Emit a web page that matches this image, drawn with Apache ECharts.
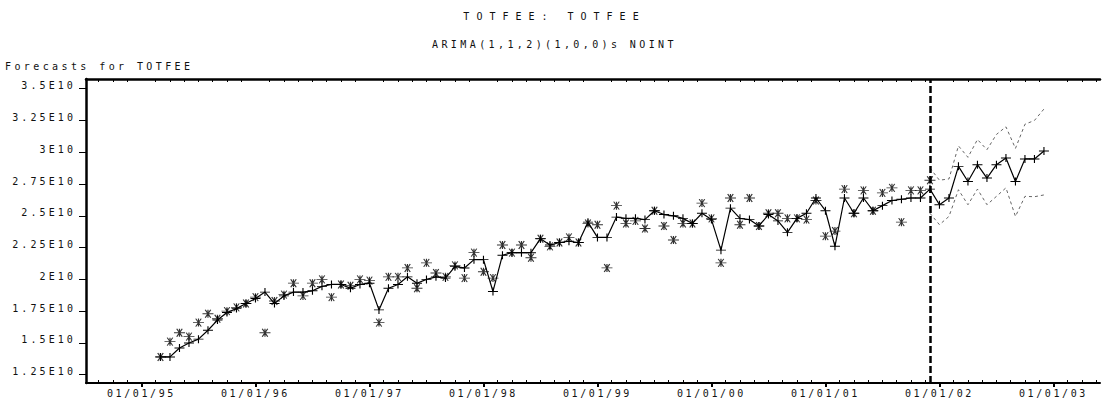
<!DOCTYPE html>
<html>
<head>
<meta charset="utf-8">
<title>TOTFEE forecasts</title>
<script src="https://cdn.jsdelivr.net/npm/echarts@6.0.0/dist/echarts.min.js"></script>
<style>
  html, body { margin: 0; padding: 0; background: #fff; }
  #chart { width: 1109px; height: 405px; }
  #chart text { letter-spacing: 2.6px; }
</style>
</head>
<body>
<div id="chart"></div>
<script>
  // x values are months counted from Jan 1995 (0 = 01/01/95)
  const firstMonth = 2;   // first observation, Mar 1995
  const bandStart = 83;   // Dec 2001, last observation

  const yearTicks = [0, 12, 24, 36, 48, 60, 72, 84, 96];
  const yearLabels = ['01/01/95', '01/01/96', '01/01/97', '01/01/98', '01/01/99',
                      '01/01/00', '01/01/01', '01/01/02', '01/01/03'];

  // values in units of 1E10
  const yTicks = [1.25, 1.5, 1.75, 2, 2.25, 2.5, 2.75, 3, 3.25, 3.5];
  const yLabels = ['1.25E10', '1.5E10', '1.75E10', '2E10', '2.25E10',
                   '2.5E10', '2.75E10', '3E10', '3.25E10', '3.5E10'];

  // actual TOTFEE, Mar 1995 .. Dec 2001
  const actual = [
    1.39, 1.51, 1.58, 1.55, 1.66, 1.73, 1.69, 1.75, 1.78, 1.81,
    1.86, 1.58, 1.83, 1.88, 1.97, 1.87, 1.97, 2.00, 1.86, 1.96,
    1.95, 2.00, 1.99, 1.66, 2.02, 2.02, 2.09, 1.93, 2.13, 2.05,
    2.02, 2.11, 2.01, 2.21, 2.06, 2.01, 2.27, 2.21, 2.27, 2.17,
    2.32, 2.26, 2.29, 2.33, 2.29, 2.44, 2.43, 2.09, 2.58, 2.44,
    2.46, 2.40, 2.54, 2.42, 2.31, 2.44, 2.44, 2.60, 2.48, 2.13,
    2.64, 2.43, 2.64, 2.42, 2.52, 2.52, 2.48, 2.48, 2.47, 2.62,
    2.34, 2.38, 2.71, 2.52, 2.70, 2.54, 2.68, 2.72, 2.45, 2.70,
    2.70, 2.78
  ];

  // one-step fit, Mar 1995 .. Dec 2001, then forecasts Jan .. Dec 2002
  const fitted = [
    1.39, 1.39, 1.46, 1.50, 1.53, 1.60, 1.68, 1.74, 1.77, 1.81,
    1.85, 1.90, 1.81, 1.87, 1.90, 1.90, 1.91, 1.945, 1.96, 1.96,
    1.93, 1.96, 1.97, 1.76, 1.93, 1.96, 2.02, 1.97, 2.00, 2.02,
    2.01, 2.10, 2.09, 2.155, 2.155, 1.905, 2.19, 2.21, 2.21, 2.21,
    2.32, 2.27, 2.29, 2.30, 2.29, 2.45, 2.33, 2.33, 2.49, 2.48,
    2.48, 2.47, 2.54, 2.51, 2.50, 2.48, 2.44, 2.52, 2.47, 2.23,
    2.56, 2.48, 2.47, 2.42, 2.51, 2.46, 2.37, 2.48, 2.52, 2.64,
    2.54, 2.26, 2.64, 2.52, 2.64, 2.54, 2.58, 2.62, 2.63, 2.64,
    2.64, 2.71, 2.587, 2.64, 2.889, 2.77, 2.902, 2.797, 2.902, 2.955,
    2.77, 2.947, 2.947, 3.01
  ];

  // confidence limits, Dec 2001 .. Dec 2002
  const upper = [2.876, 2.78, 2.79, 3.05, 2.96, 3.10, 3.02, 3.14, 3.20, 3.03, 3.22, 3.25, 3.34];
  const lower = [2.52, 2.43, 2.495, 2.705, 2.587, 2.71, 2.587, 2.653, 2.72, 2.495, 2.653, 2.65, 2.664];

  // small frame ticks, every month and a half
  const minorTicks = [];
  for (let k = -3; k <= 67; k++) if (k % 8 !== 0) minorTicks.push(k * 1.5);

  const FONT = '"DejaVu Sans Mono", monospace';
  const plusPath = 'path://M0,4L10,4M5,0L5,8';
  const starPath = 'path://M0,4L12,4M6,0L6,8M3,0L9,8M9,0L3,8';

  const pairs = (arr, start) => arr.map((v, i) => [start + i, v]);
  const pick = (ticks, labels, v) => {
    const i = ticks.findIndex(t => Math.abs(t - v) < 1e-6);
    return i < 0 ? '' : labels[i];
  };
  const xRange = { type: 'value', min: -5.84, max: 100.9, splitLine: { show: false } };
  const titleStyle = { fontFamily: FONT, fontSize: 10, fontWeight: 'normal', color: '#111' };

  const chart = echarts.init(document.getElementById('chart'), null, { renderer: 'svg' });

  chart.setOption({
    animation: false,
    backgroundColor: '#fff',
    title: [
      { text: 'TOTFEE: TOTFEE', left: 'center', top: 6, textStyle: titleStyle },
      { text: 'ARIMA(1,1,2)(1,0,0)s NOINT', left: 'center', top: 34, textStyle: titleStyle },
      { text: 'Forecasts for TOTFEE', left: 0, top: 56, textStyle: titleStyle }
    ],
    grid: { left: 86, right: 9, top: 79, bottom: 22 },
    xAxis: [
      Object.assign({}, xRange, {
        position: 'bottom',
        axisLine: { onZero: false, lineStyle: { color: '#000', width: 2 } },
        axisTick: { customValues: yearTicks, length: 4, lineStyle: { color: '#000', width: 2 } },
        axisLabel: {
          customValues: yearTicks, margin: 5,
          fontFamily: FONT, fontSize: 10, color: '#111',
          formatter: v => pick(yearTicks, yearLabels, v)
        }
      }),
      Object.assign({}, xRange, {
        position: 'bottom',
        axisLine: { show: false, onZero: false },
        axisTick: { customValues: minorTicks, inside: true, length: 3, lineStyle: { color: '#000', width: 1 } },
        axisLabel: { show: false }
      }),
      Object.assign({}, xRange, {
        position: 'top',
        axisLine: { onZero: false, lineStyle: { color: '#000', width: 2.5 } },
        axisTick: { customValues: minorTicks, inside: true, length: 3, lineStyle: { color: '#000', width: 1 } },
        axisLabel: { show: false }
      })
    ],
    yAxis: {
      type: 'value',
      min: 1.185, max: 3.576,
      splitLine: { show: false },
      axisLine: { onZero: false, lineStyle: { color: '#000', width: 2.5 } },
      axisTick: { customValues: yTicks, length: 7, lineStyle: { color: '#000', width: 1 } },
      axisLabel: {
        customValues: yTicks, margin: 10,
        fontFamily: FONT, fontSize: 10, color: '#111',
        verticalAlign: 'bottom', lineHeight: 6,
        formatter: v => pick(yTicks, yLabels, v)
      }
    },
    series: [
      {
        name: 'U95', type: 'line', data: pairs(upper, bandStart),
        showSymbol: false, silent: true,
        lineStyle: { color: '#666', width: 1, type: [3, 3] }
      },
      {
        name: 'L95', type: 'line', data: pairs(lower, bandStart),
        showSymbol: false, silent: true,
        lineStyle: { color: '#666', width: 1, type: [3, 3] }
      },
      {
        name: 'Forecast', type: 'line', data: pairs(fitted, firstMonth),
        symbol: plusPath, symbolSize: [10, 8], showAllSymbol: true,
        itemStyle: { color: '#000', borderColor: '#000', borderWidth: 1 },
        lineStyle: { color: '#000', width: 1.2 },
        markLine: {
          silent: true, symbol: ['none', 'none'],
          label: { show: false },
          lineStyle: { color: '#000', width: 2.5, type: [7, 3] },
          data: [{ xAxis: bandStart }]
        }
      },
      {
        name: 'TOTFEE', type: 'scatter', data: pairs(actual, firstMonth),
        symbol: starPath, symbolSize: [11, 8],
        itemStyle: { color: '#000', borderColor: '#000', borderWidth: 1 }
      }
    ]
  });

  // spaced-out lettering, as in the old printout
  function spaceText() {
    document.querySelectorAll('#chart text').forEach(t => {
      const s = t.textContent;
      let ls = '2.6px';
      if (s === 'TOTFEE: TOTFEE') ls = '7px';
      else if (s.indexOf('ARIMA') === 0 || s.indexOf('Forecasts') === 0) ls = '3.4px';
      else if (/E10$/.test(s)) ls = '3.1px';
      t.style.letterSpacing = ls;
    });
  }
  chart.on('finished', spaceText);
  spaceText();
</script>
</body>
</html>
